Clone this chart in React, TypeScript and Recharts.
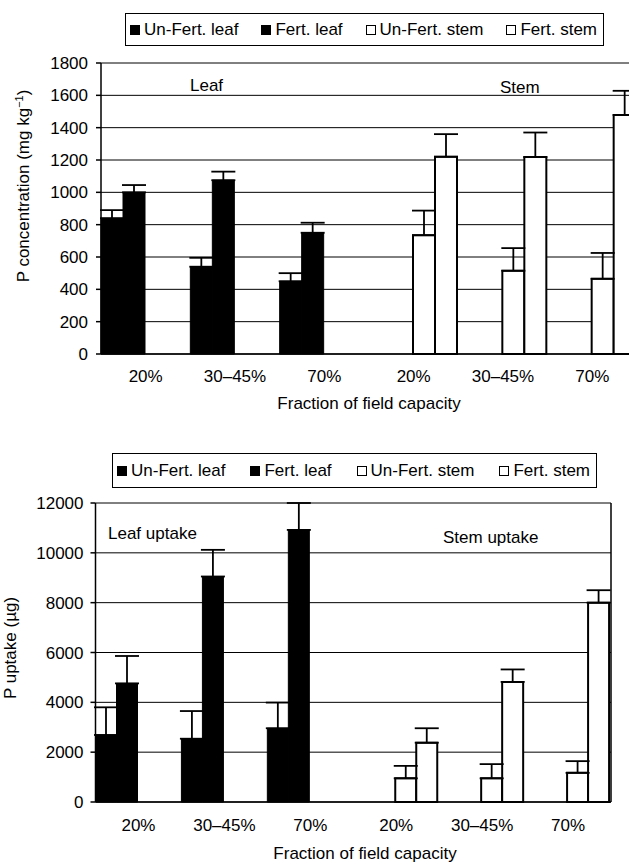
import { BarChart, Bar, XAxis, YAxis, CartesianGrid, ErrorBar, Legend } from "recharts";

const FONT = "'Liberation Sans', Arial, Helvetica, sans-serif";
const INK = "#000";

const categories = ["20%", "30–45%", "70%", "20%", "30–45%", "70%"];
const edgeTicks = [0, 1, 2, 3, 4, 5, 6];
const seriesNames = ["Un-Fert. leaf", "Fert. leaf", "Un-Fert. stem", "Fert. stem"];
const seriesFills = ["#000", "#000", "#fff", "#fff"];

// P concentration (mg kg-1) and upper error
const concTicks = [0, 200, 400, 600, 800, 1000, 1200, 1400, 1600, 1800];
const concUnFertLeaf = [840, 540, 450, null, null, null];
const concFertLeaf = [1000, 1075, 750, null, null, null];
const concUnFertStem = [null, null, null, 735, 515, 465];
const concFertStem = [null, null, null, 1220, 1218, 1478];
const concUnFertLeafErr = [50, 55, 50, null, null, null];
const concFertLeafErr = [45, 53, 62, null, null, null];
const concUnFertStemErr = [null, null, null, 152, 140, 160];
const concFertStemErr = [null, null, null, 140, 152, 150];

// P uptake (ug) and upper error
const uptakeTicks = [0, 2000, 4000, 6000, 8000, 10000, 12000];
const uptUnFertLeaf = [2690, 2540, 2960, null, null, null];
const uptFertLeaf = [4760, 9050, 10920, null, null, null];
const uptUnFertStem = [null, null, null, 950, 950, 1170];
const uptFertStem = [null, null, null, 2380, 4820, 8000];
const uptUnFertLeafErr = [1110, 1110, 1030, null, null, null];
const uptFertLeafErr = [1100, 1070, 1080, null, null, null];
const uptUnFertStemErr = [null, null, null, 500, 570, 470];
const uptFertStemErr = [null, null, null, 580, 500, 500];

type Num = number | null;

function buildRows(vals: Num[][], errs: Num[][]) {
  return categories.map((cat, i) => {
    const row: Record<string, any> = { cat };
    vals.forEach((v, s) => {
      row[`s${s}`] = v[i];
      row[`e${s}`] = errs[s][i] == null ? null : [0, errs[s][i]];
    });
    return row;
  });
}

const concRows = buildRows(
  [concUnFertLeaf, concFertLeaf, concUnFertStem, concFertStem],
  [concUnFertLeafErr, concFertLeafErr, concUnFertStemErr, concFertStemErr]
);
const uptakeRows = buildRows(
  [uptUnFertLeaf, uptFertLeaf, uptUnFertStem, uptFertStem],
  [uptUnFertLeafErr, uptFertLeafErr, uptUnFertStemErr, uptFertStemErr]
);

function Swatch({ fill }: { fill: string }) {
  return (
    <span style={{
      display: "inline-block", width: 10, height: 10, background: fill,
      border: `1.5px solid ${INK}`, marginRight: 4, boxSizing: "border-box",
    }} />
  );
}

function LegendBox() {
  return (
    <div style={{
      boxSizing: "border-box", width: "100%", height: "100%", border: `1.5px solid ${INK}`,
      display: "flex", alignItems: "center", justifyContent: "space-between",
      padding: "0 6px 0 4px", fontFamily: FONT, fontSize: 17, color: INK, background: "#fff",
    }}>
      {seriesNames.map((name, i) => (
        <span key={name} style={{ display: "flex", alignItems: "center", whiteSpace: "nowrap" }}>
          <Swatch fill={seriesFills[i]} />
          {name}
        </span>
      ))}
    </div>
  );
}

type PanelProps = {
  rows: Record<string, any>[];
  ticks: number[];
  width: number;
  height: number;
  margin: { top: number; right: number; left: number; bottom: number };
  yTickMargin: number;
  xTickMargin: number;
  legend: { left: number; top: number; width: number; height: number };
};

function Panel({ rows, ticks, width, height, margin, yTickMargin, xTickMargin, legend }: PanelProps) {
  const tickFont = { fill: INK, fontSize: 17, fontFamily: FONT };
  return (
    <BarChart width={width} height={height} data={rows} margin={margin} barCategoryGap={0} barGap={0}>
      <CartesianGrid xAxisId="b_cat" vertical={false} stroke={INK} strokeWidth={1} />
      {/* tick marks at the category boundaries, sitting right on the plot */}
      <XAxis
        xAxisId="a_edge" type="number" domain={[0, 6]} ticks={edgeTicks} interval={0} allowDataOverflow
        tick={false} tickSize={5} height={6}
        axisLine={{ stroke: INK, strokeWidth: 1.5 }} tickLine={{ stroke: INK, strokeWidth: 1.5 }}
      />
      <XAxis
        xAxisId="b_cat" dataKey="cat" interval={0} height={40} tickSize={0} tickMargin={xTickMargin}
        axisLine={false} tickLine={false} tick={tickFont}
      />
      <YAxis
        domain={[0, ticks[ticks.length - 1]]} ticks={ticks} interval={0} width={60}
        tickSize={5} tickMargin={yTickMargin} tick={tickFont}
        axisLine={{ stroke: INK, strokeWidth: 1.5 }} tickLine={{ stroke: INK, strokeWidth: 1.5 }}
      />
      <YAxis
        yAxisId="border" orientation="right" width={1} tick={false} tickLine={false}
        axisLine={{ stroke: INK, strokeWidth: 1.5 }}
      />
      <Legend
        layout="horizontal" verticalAlign="middle" align="center"
        wrapperStyle={{ ...legend, position: "absolute" }}
        content={() => <LegendBox />}
      />
      {seriesNames.map((name, s) => (
        <Bar
          key={name} name={name} dataKey={`s${s}`} xAxisId="b_cat" fill={seriesFills[s]}
          stroke={INK} strokeWidth={s < 2 ? 1 : 2} isAnimationActive={false}
        >
          <ErrorBar dataKey={`e${s}`} direction="y" width={12} stroke={INK} strokeWidth={1.8} />
        </Bar>
      ))}
    </BarChart>
  );
}

const text = { position: "absolute" as const, fontFamily: FONT, fontSize: 17, color: INK, whiteSpace: "nowrap" as const, lineHeight: 1 };

export default function App() {
  return (
    <div style={{ position: "absolute", left: 0, top: 0, width: 629, height: 865, overflow: "hidden", background: "#fff" }}>
      <div style={{ position: "absolute", left: 0, top: 0 }}>
        <Panel
          rows={concRows} ticks={concTicks} width={648} height={420}
          margin={{ top: 63, right: 10, left: 41, bottom: 20 }}
          yTickMargin={8} xTickMargin={10}
          legend={{ left: 125, top: 13, width: 479, height: 33 }}
        />
      </div>
      <div style={{ position: "absolute", left: 0, top: 440 }}>
        <Panel
          rows={uptakeRows} ticks={uptakeTicks} width={621} height={425}
          margin={{ top: 63, right: 9, left: 35.5, bottom: 17 }}
          yTickMargin={7} xTickMargin={11}
          legend={{ left: 112, top: 13, width: 485, height: 35 }}
        />
      </div>

      <div style={{ ...text, left: 23, top: 186, transform: "translate(-50%, -50%) rotate(-90deg)" }}>
        P concentration (mg kg<sup style={{ fontSize: 11 }}>−1</sup>)
      </div>
      <div style={{ ...text, left: 369, top: 403, transform: "translate(-50%, -50%)" }}>Fraction of field capacity</div>
      <div style={{ ...text, left: 190, top: 85, transform: "translateY(-50%)" }}>Leaf</div>
      <div style={{ ...text, left: 500, top: 87, transform: "translateY(-50%)" }}>Stem</div>

      <div style={{ ...text, left: 10, top: 648, transform: "translate(-50%, -50%) rotate(-90deg)" }}>P uptake (µg)</div>
      <div style={{ ...text, left: 365, top: 853, transform: "translate(-50%, -50%)" }}>Fraction of field capacity</div>
      <div style={{ ...text, left: 108, top: 533, transform: "translateY(-50%)" }}>Leaf uptake</div>
      <div style={{ ...text, left: 443, top: 537, transform: "translateY(-50%)" }}>Stem uptake</div>
    </div>
  );
}
